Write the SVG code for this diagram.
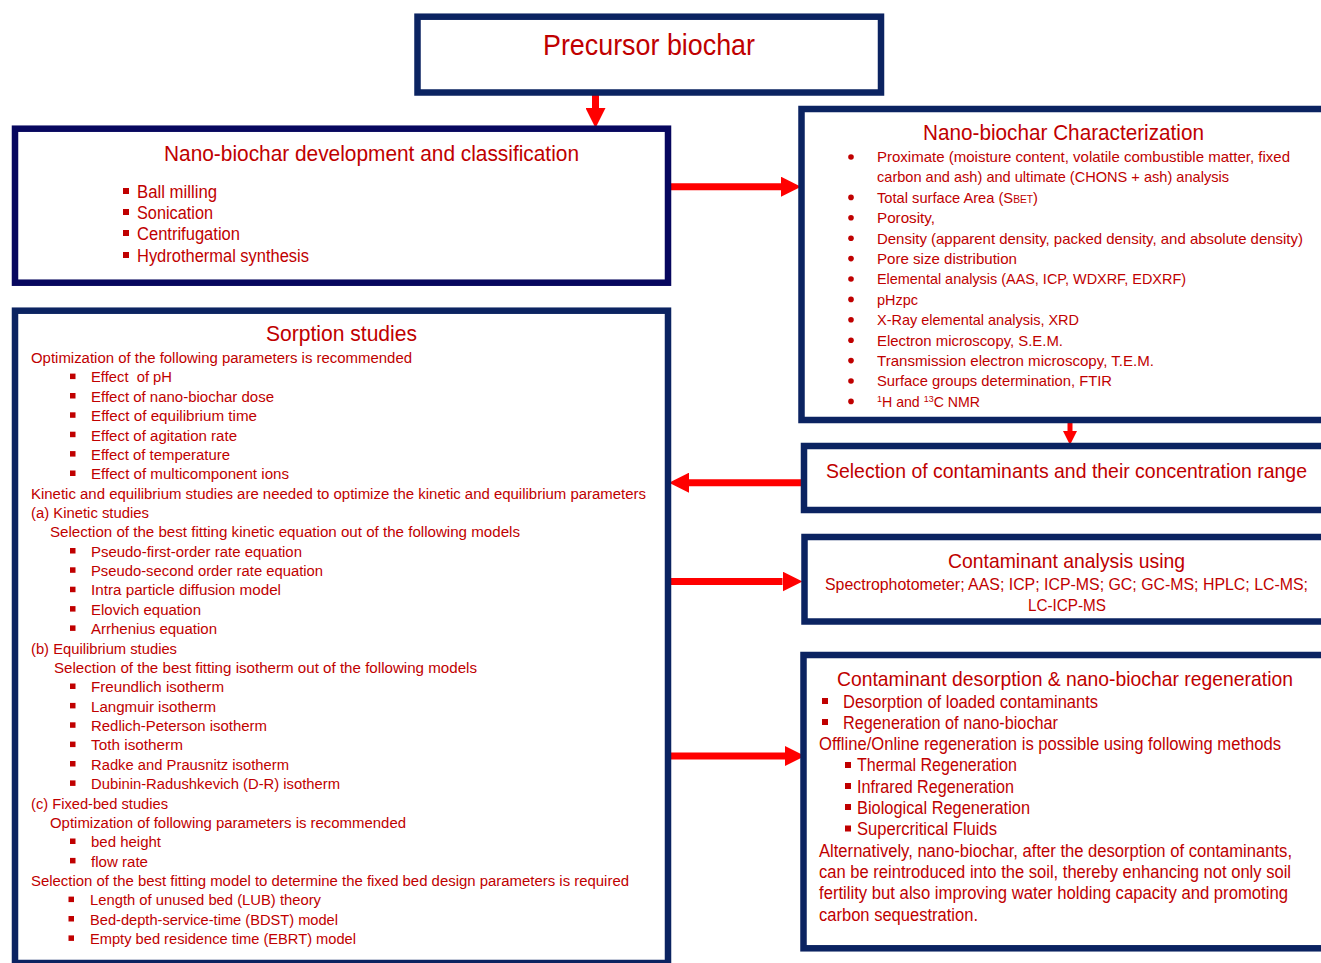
<svg xmlns="http://www.w3.org/2000/svg" xmlns:xlink="http://www.w3.org/1999/xlink" width="1321" height="963" viewBox="0 0 1321 963">
  <style>
    text { font-family: "Liberation Sans Narrow", "Liberation Sans", Arial, sans-serif; fill: #c00000; }
    .box { fill: #ffffff; stroke: #0b2361; stroke-width: 6.5; }
    .box-dk { fill: #ffffff; stroke: #07075e; stroke-width: 6.5; }
    .h1 { font-size: 29px; }
    .h2 { font-size: 22px; }
    .h3 { font-size: 21px; }
    .b17 { font-size: 17.5px; }
    .b16 { font-size: 16.5px; }
    .b15 { font-size: 15px; }
    .s { font-size: 15.5px; }
    .arrow { stroke: #ff0000; stroke-width: 7; fill: none; }
    .arrow-sm { stroke: #ff0000; stroke-width: 5; fill: none; }
  </style>
  <defs>
    <marker id="head" markerUnits="userSpaceOnUse" markerWidth="20" markerHeight="20" viewBox="0 0 20 20" refX="0" refY="10" orient="auto">
      <path d="M0,0 L20,10 L0,20 Z" fill="#ff0000"/>
    </marker>
    <marker id="head-sm" markerUnits="userSpaceOnUse" markerWidth="14" markerHeight="14" viewBox="0 0 14 14" refX="0" refY="7" orient="auto">
      <path d="M0,0 L14,7 L0,14 Z" fill="#ff0000"/>
    </marker>
    <rect id="sq" width="5.5" height="5.5" fill="#c00000"/>
    <rect id="sq6" width="6" height="6" fill="#c00000"/>
    <circle id="dot" r="2.8" fill="#c00000"/>
  </defs>

  <rect width="1321" height="963" fill="#ffffff"/>

  <!-- connectors -->
  <g id="connectors">
    <line class="arrow" x1="595.5" y1="92" x2="595.5" y2="108" marker-end="url(#head)"/>
    <line class="arrow" x1="668" y1="186.7" x2="781" y2="186.7" marker-end="url(#head)"/>
    <line class="arrow-sm" x1="1070" y1="420" x2="1070" y2="431" marker-end="url(#head-sm)"/>
    <line class="arrow" x1="803" y1="482.7" x2="689" y2="482.7" marker-end="url(#head)"/>
    <line class="arrow" x1="668" y1="581.5" x2="782.5" y2="581.5" marker-end="url(#head)"/>
    <line class="arrow" x1="671" y1="756" x2="785" y2="756" marker-end="url(#head)"/>
  </g>

  <!-- precursor -->
  <g id="precursor">
    <rect class="box" x="417.5" y="16.7" width="463.5" height="75.8"/>
    <text class="h1" x="543" y="54.5" textLength="212" lengthAdjust="spacingAndGlyphs">Precursor biochar</text>
  </g>

  <!-- development and classification -->
  <g id="development">
    <rect class="box-dk" x="15" y="128.7" width="653" height="154"/>
    <text class="h2" x="164" y="161" textLength="415" lengthAdjust="spacingAndGlyphs">Nano-biochar development and classification</text>
    <use href="#sq6" x="123" y="188"/>
    <use href="#sq6" x="123" y="209"/>
    <use href="#sq6" x="123" y="230"/>
    <use href="#sq6" x="123" y="252"/>
    <text class="b17" x="137" y="198.3" textLength="80" lengthAdjust="spacingAndGlyphs">Ball milling</text>
    <text class="b17" x="137" y="219.3" textLength="76" lengthAdjust="spacingAndGlyphs">Sonication</text>
    <text class="b17" x="137" y="240.3" textLength="103" lengthAdjust="spacingAndGlyphs">Centrifugation</text>
    <text class="b17" x="137" y="262.3" textLength="172" lengthAdjust="spacingAndGlyphs">Hydrothermal synthesis</text>
  </g>

  <!-- characterization -->
  <g id="characterization">
    <rect class="box" x="801.5" y="109" width="540" height="311"/>
    <text class="h2" x="923" y="140.2" textLength="281" lengthAdjust="spacingAndGlyphs">Nano-biochar Characterization</text>
    <use href="#dot" x="851" y="157"/>
    <use href="#dot" x="851" y="197.4"/>
    <use href="#dot" x="851" y="217.8"/>
    <use href="#dot" x="851" y="238.2"/>
    <use href="#dot" x="851" y="258.6"/>
    <use href="#dot" x="851" y="279"/>
    <use href="#dot" x="851" y="299.4"/>
    <use href="#dot" x="851" y="319.8"/>
    <use href="#dot" x="851" y="340.2"/>
    <use href="#dot" x="851" y="360.6"/>
    <use href="#dot" x="851" y="381"/>
    <use href="#dot" x="851" y="401.4"/>
    <text class="b15" x="877" y="162.4" textLength="413" lengthAdjust="spacingAndGlyphs">Proximate (moisture content, volatile combustible matter, fixed</text>
    <text class="b15" x="877" y="182.2" textLength="352" lengthAdjust="spacingAndGlyphs">carbon and ash) and ultimate (CHONS + ash) analysis</text>
    <text class="b15" x="877" y="202.8" textLength="161" lengthAdjust="spacingAndGlyphs">Total surface Area (S<tspan font-size="10.5">BET</tspan>)</text>
    <text class="b15" x="877" y="223.2" textLength="58" lengthAdjust="spacingAndGlyphs">Porosity,</text>
    <text class="b15" x="877" y="243.6" textLength="426" lengthAdjust="spacingAndGlyphs">Density (apparent density, packed density, and absolute density)</text>
    <text class="b15" x="877" y="264" textLength="140" lengthAdjust="spacingAndGlyphs">Pore size distribution</text>
    <text class="b15" x="877" y="284.4" textLength="309" lengthAdjust="spacingAndGlyphs">Elemental analysis (AAS, ICP, WDXRF, EDXRF)</text>
    <text class="b15" x="877" y="304.8" textLength="41" lengthAdjust="spacingAndGlyphs">pHzpc</text>
    <text class="b15" x="877" y="325.2" textLength="202" lengthAdjust="spacingAndGlyphs">X-Ray elemental analysis, XRD</text>
    <text class="b15" x="877" y="345.6" textLength="186" lengthAdjust="spacingAndGlyphs">Electron microscopy, S.E.M.</text>
    <text class="b15" x="877" y="366" textLength="277" lengthAdjust="spacingAndGlyphs">Transmission electron microscopy, T.E.M.</text>
    <text class="b15" x="877" y="386.4" textLength="235" lengthAdjust="spacingAndGlyphs">Surface groups determination, FTIR</text>
    <text class="b15" x="877" y="406.8" textLength="103" lengthAdjust="spacingAndGlyphs"><tspan font-size="9.5" dy="-5">1</tspan><tspan dy="5">H and </tspan><tspan font-size="9.5" dy="-5">13</tspan><tspan dy="5">C NMR</tspan></text>
  </g>

  <!-- contaminant selection -->
  <g id="selection">
    <rect class="box" x="804" y="446" width="540" height="64"/>
    <text class="h3" x="826" y="477.5" textLength="481" lengthAdjust="spacingAndGlyphs">Selection of contaminants and their concentration range</text>
  </g>

  <!-- contaminant analysis -->
  <g id="analysis">
    <rect class="box" x="804.5" y="537" width="540" height="84.5"/>
    <text class="h3" x="948" y="568" textLength="237" lengthAdjust="spacingAndGlyphs">Contaminant analysis using</text>
    <text class="b16" x="825" y="590" textLength="483" lengthAdjust="spacingAndGlyphs">Spectrophotometer; AAS; ICP; ICP-MS; GC; GC-MS; HPLC; LC-MS;</text>
    <text class="b16" x="1028" y="611" textLength="78" lengthAdjust="spacingAndGlyphs">LC-ICP-MS</text>
  </g>

  <!-- desorption and regeneration -->
  <g id="regeneration">
    <rect class="box" x="803.5" y="655" width="540" height="293.3"/>
    <text class="h3" x="837" y="685.5" textLength="456" lengthAdjust="spacingAndGlyphs">Contaminant desorption &amp; nano-biochar regeneration</text>
    <use href="#sq6" x="822" y="698"/>
    <use href="#sq6" x="822" y="719"/>
    <use href="#sq6" x="845" y="762"/>
    <use href="#sq6" x="845" y="783"/>
    <use href="#sq6" x="845" y="804"/>
    <use href="#sq6" x="845" y="825.5"/>
    <text class="b17" x="843" y="708" textLength="255" lengthAdjust="spacingAndGlyphs">Desorption of loaded contaminants</text>
    <text class="b17" x="843" y="728.5" textLength="215" lengthAdjust="spacingAndGlyphs">Regeneration of nano-biochar</text>
    <text class="b17" x="819" y="749.5" textLength="462" lengthAdjust="spacingAndGlyphs">Offline/Online regeneration is possible using following methods</text>
    <text class="b17" x="857" y="771" textLength="160" lengthAdjust="spacingAndGlyphs">Thermal Regeneration</text>
    <text class="b17" x="857" y="792.5" textLength="157" lengthAdjust="spacingAndGlyphs">Infrared Regeneration</text>
    <text class="b17" x="857" y="813.5" textLength="173" lengthAdjust="spacingAndGlyphs">Biological Regeneration</text>
    <text class="b17" x="857" y="835" textLength="140" lengthAdjust="spacingAndGlyphs">Supercritical Fluids</text>
    <text class="b17" x="819" y="856.5" textLength="473" lengthAdjust="spacingAndGlyphs">Alternatively, nano-biochar, after the desorption of contaminants,</text>
    <text class="b17" x="819" y="877.5" textLength="472" lengthAdjust="spacingAndGlyphs">can be reintroduced into the soil, thereby enhancing not only soil</text>
    <text class="b17" x="819" y="899" textLength="469" lengthAdjust="spacingAndGlyphs">fertility but also improving water holding capacity and promoting</text>
    <text class="b17" x="819" y="920.5" textLength="159" lengthAdjust="spacingAndGlyphs">carbon sequestration.</text>
  </g>

  <!-- sorption studies -->
  <g id="sorption">
    <rect class="box" x="15" y="310.7" width="653" height="652.3"/>
    <text class="h2" x="266" y="341" textLength="151" lengthAdjust="spacingAndGlyphs">Sorption studies</text>
    <g>
      <use href="#sq" x="70" y="373.6"/>
      <use href="#sq" x="70" y="393"/>
      <use href="#sq" x="70" y="412.3"/>
      <use href="#sq" x="70" y="431.7"/>
      <use href="#sq" x="70" y="451.1"/>
      <use href="#sq" x="70" y="470.5"/>
      <use href="#sq" x="70" y="548.0"/>
      <use href="#sq" x="70" y="567.3"/>
      <use href="#sq" x="70" y="586.7"/>
      <use href="#sq" x="70" y="606.1"/>
      <use href="#sq" x="70" y="625.4"/>
      <use href="#sq" x="70" y="683.5"/>
      <use href="#sq" x="70" y="702.9"/>
      <use href="#sq" x="70" y="722.3"/>
      <use href="#sq" x="70" y="741.6"/>
      <use href="#sq" x="70" y="761.0"/>
      <use href="#sq" x="70" y="780.4"/>
      <use href="#sq" x="70" y="838.5"/>
      <use href="#sq" x="70" y="857.9"/>
      <use href="#sq" x="68.5" y="896.6"/>
      <use href="#sq" x="68.5" y="916.0"/>
      <use href="#sq" x="68.5" y="935.4"/>
    </g>
    <text class="s" x="31" y="363" textLength="381" lengthAdjust="spacingAndGlyphs">Optimization of the following parameters is recommended</text>
    <text class="s" x="91" y="382.4" textLength="81" lengthAdjust="spacingAndGlyphs" xml:space="preserve">Effect  of pH</text>
    <text class="s" x="91" y="401.7" textLength="183" lengthAdjust="spacingAndGlyphs">Effect of nano-biochar dose</text>
    <text class="s" x="91" y="421.1" textLength="166" lengthAdjust="spacingAndGlyphs">Effect of equilibrium time</text>
    <text class="s" x="91" y="440.5" textLength="146" lengthAdjust="spacingAndGlyphs">Effect of agitation rate</text>
    <text class="s" x="91" y="459.9" textLength="139" lengthAdjust="spacingAndGlyphs">Effect of temperature</text>
    <text class="s" x="91" y="479.2" textLength="198" lengthAdjust="spacingAndGlyphs">Effect of multicomponent ions</text>
    <text class="s" x="31" y="498.6" textLength="615" lengthAdjust="spacingAndGlyphs">Kinetic and equilibrium studies are needed to optimize the kinetic and equilibrium parameters</text>
    <text class="s" x="31" y="518" textLength="118" lengthAdjust="spacingAndGlyphs">(a) Kinetic studies</text>
    <text class="s" x="50" y="537.3" textLength="470" lengthAdjust="spacingAndGlyphs">Selection of the best fitting kinetic equation out of the following models</text>
    <text class="s" x="91" y="556.7" textLength="211" lengthAdjust="spacingAndGlyphs">Pseudo-first-order rate equation</text>
    <text class="s" x="91" y="576.1" textLength="232" lengthAdjust="spacingAndGlyphs">Pseudo-second order rate equation</text>
    <text class="s" x="91" y="595.4" textLength="190" lengthAdjust="spacingAndGlyphs">Intra particle diffusion model</text>
    <text class="s" x="91" y="614.8" textLength="110" lengthAdjust="spacingAndGlyphs">Elovich equation</text>
    <text class="s" x="91" y="634.2" textLength="126" lengthAdjust="spacingAndGlyphs">Arrhenius equation</text>
    <text class="s" x="31" y="653.6" textLength="146" lengthAdjust="spacingAndGlyphs">(b) Equilibrium studies</text>
    <text class="s" x="54" y="672.9" textLength="423" lengthAdjust="spacingAndGlyphs">Selection of the best fitting isotherm out of the following models</text>
    <text class="s" x="91" y="692.3" textLength="133" lengthAdjust="spacingAndGlyphs">Freundlich isotherm</text>
    <text class="s" x="91" y="711.7" textLength="125" lengthAdjust="spacingAndGlyphs">Langmuir isotherm</text>
    <text class="s" x="91" y="731" textLength="176" lengthAdjust="spacingAndGlyphs">Redlich-Peterson isotherm</text>
    <text class="s" x="91" y="750.4" textLength="92" lengthAdjust="spacingAndGlyphs">Toth isotherm</text>
    <text class="s" x="91" y="769.8" textLength="198" lengthAdjust="spacingAndGlyphs">Radke and Prausnitz isotherm</text>
    <text class="s" x="91" y="789.1" textLength="249" lengthAdjust="spacingAndGlyphs">Dubinin-Radushkevich (D-R) isotherm</text>
    <text class="s" x="31" y="808.5" textLength="137" lengthAdjust="spacingAndGlyphs">(c) Fixed-bed studies</text>
    <text class="s" x="50" y="827.9" textLength="356" lengthAdjust="spacingAndGlyphs">Optimization of following parameters is recommended</text>
    <text class="s" x="91" y="847.3" textLength="70" lengthAdjust="spacingAndGlyphs">bed height</text>
    <text class="s" x="91" y="866.6" textLength="57" lengthAdjust="spacingAndGlyphs">flow rate</text>
    <text class="s" x="31" y="886" textLength="598" lengthAdjust="spacingAndGlyphs">Selection of the best fitting model to determine the fixed bed design parameters is required</text>
    <text class="s" x="90" y="905.4" textLength="231" lengthAdjust="spacingAndGlyphs">Length of unused bed (LUB) theory</text>
    <text class="s" x="90" y="924.7" textLength="248" lengthAdjust="spacingAndGlyphs">Bed-depth-service-time (BDST) model</text>
    <text class="s" x="90" y="944.1" textLength="266" lengthAdjust="spacingAndGlyphs">Empty bed residence time (EBRT) model</text>
  </g>
</svg>
